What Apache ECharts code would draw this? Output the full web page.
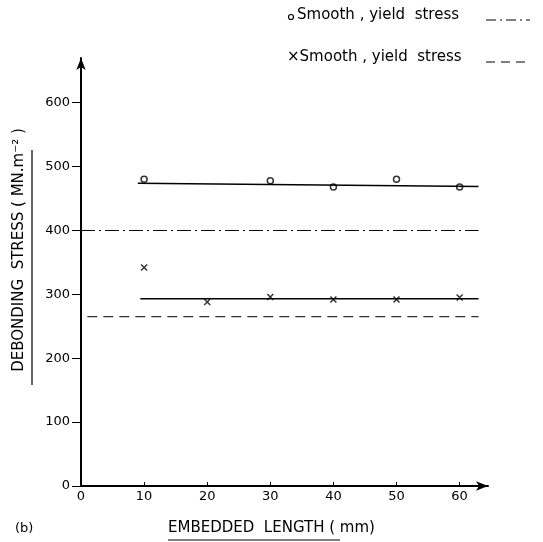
<!DOCTYPE html>
<html><head><meta charset="utf-8">
<script src="https://cdn.jsdelivr.net/npm/echarts@6/dist/echarts.min.js"></script>
<style>html,body{margin:0;padding:0;background:#fff}#c{width:543px;height:542px}</style>
</head><body><div id="c"></div>
<script>
// Data
var circleX = [10, 30, 40, 50, 60];
var circleY = [480, 478, 468, 480, 468];
var crossX = [10, 20, 30, 40, 50, 60];
var crossY = [342, 288, 296, 292, 292, 295];
var circleFitX = [9, 63];
var circleFitY = [474, 469];
var crossFitX = [9.4, 63];
var crossFitY = [293, 293];
var yieldDashDotX = [0, 63];
var yieldDashDotY = [400, 400];
var yieldDashX = [1, 63];
var yieldDashY = [265, 265];
var xTicks = [0, 10, 20, 30, 40, 50, 60];
var yTicks = [0, 100, 200, 300, 400, 500, 600];

function pairs(xs, ys){ return xs.map(function(x,i){ return [x, ys[i]]; }); }

var font = 'DejaVu Sans';
var chart = echarts.init(document.getElementById('c'));
chart.setOption({
  animation: false,
  backgroundColor: '#fff',
  grid: {left: 81, right: 55, top: 58, bottom: 56},
  xAxis: {
    type: 'value', min: 0, max: 64.5, interval: 10,
    axisLine: {show: true, symbol: ['none','arrow'], symbolSize: [7, 12], lineStyle: {color: '#000', width: 2}},
    axisTick: {show: true, inside: true, length: 4, customValues: xTicks, lineStyle: {color: '#000', width: 1}},
    axisLabel: {color: '#000', fontFamily: font, fontSize: 13, margin: 4, customValues: xTicks},
    splitLine: {show: false}
  },
  yAxis: {
    type: 'value', min: 0, max: 670, interval: 100,
    axisLine: {show: true, symbol: ['none','arrow'], symbolSize: [7, 12], lineStyle: {color: '#000', width: 2}},
    axisTick: {show: true, length: 9, customValues: yTicks, lineStyle: {color: '#000', width: 1}},
    axisLabel: {color: '#000', fontFamily: font, fontSize: 13, margin: 11, customValues: yTicks},
    splitLine: {show: false}
  },
  series: [
    {type: 'line', data: pairs(yieldDashDotX, yieldDashDotY), symbol: 'none',
     lineStyle: {color: '#000', width: 1, type: [14, 4, 2, 4]}},
    {type: 'line', data: pairs(yieldDashX, yieldDashY), symbol: 'none',
     lineStyle: {color: '#000', width: 1, type: [10, 6]}},
    {type: 'line', data: pairs(circleFitX, circleFitY), symbol: 'none',
     lineStyle: {color: '#000', width: 1.5}},
    {type: 'line', data: pairs(crossFitX, crossFitY), symbol: 'none',
     lineStyle: {color: '#000', width: 1.5}},
    {type: 'scatter', data: pairs(circleX, circleY), symbol: 'circle', symbolSize: 6,
     itemStyle: {color: '#fff', borderColor: '#000', borderWidth: 1.5}},
    {type: 'scatter', data: pairs(crossX, crossY), symbol: 'path://M0,0L10,10M10,0L0,10', symbolSize: 6,
     itemStyle: {color: 'none', borderColor: '#000', borderWidth: 1.5}}
  ],
  graphic: [
    {type: 'circle', shape: {cx: 291, cy: 17, r: 2.5}, style: {fill: '#fff', stroke: '#000', lineWidth: 1.2}},
    {type: 'text', left: 297, top: 8, style: {text: 'Smooth , yield  stress', font: '15px "DejaVu Sans"', fill: '#000'}},
    {type: 'line', shape: {x1: 486, y1: 20, x2: 530, y2: 20}, style: {stroke: '#000', lineWidth: 1, lineDash: [10, 4, 2, 4]}},
    {type: 'text', left: 287, top: 50, style: {text: '\u00d7Smooth , yield  stress', font: '15px "DejaVu Sans"', fill: '#000'}},
    {type: 'line', shape: {x1: 486, y1: 62, x2: 530, y2: 62}, style: {stroke: '#000', lineWidth: 1, lineDash: [9, 6]}},
    {type: 'text', left: 15, top: 522, style: {text: '(b)', font: '13px "DejaVu Sans"', fill: '#000'}},
    {type: 'text', left: 168, top: 521, style: {text: 'EMBEDDED  LENGTH ( mm)', font: '15px "DejaVu Sans"', fill: '#000'}},
    {type: 'line', shape: {x1: 168, y1: 540, x2: 340, y2: 540}, style: {stroke: '#000', lineWidth: 1}},
    {type: 'text', x: 19, y: 250, rotation: Math.PI / 2,
     style: {text: 'DEBONDING  STRESS ( MN.m\u207b\u00b2 )', font: '15px "DejaVu Sans"', fill: '#000', align: 'center', verticalAlign: 'middle'}},
    {type: 'line', shape: {x1: 32, y1: 150, x2: 32, y2: 385}, style: {stroke: '#000', lineWidth: 1.2}}
  ]
});
</script></body></html>
